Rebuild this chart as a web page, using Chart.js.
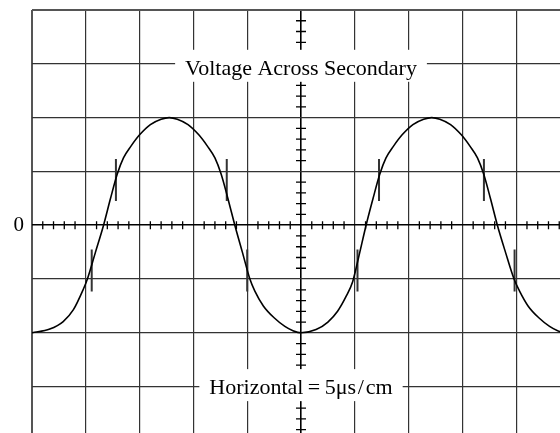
<!DOCTYPE html>
<html>
<head>
<meta charset="utf-8">
<script src="https://cdn.jsdelivr.net/npm/chart.js@4.4.1/dist/chart.umd.min.js"></script>
<style>
  html, body { margin: 0; padding: 0; background: #fff; }
  #wrap { width: 560px; height: 433px; }
</style>
</head>
<body>
<div id="wrap"><canvas id="scope" width="560" height="433"></canvas></div>
<script>
// trace in graticule divisions: x from the left edge, y from the centre line
const traceX = [
    0.00, 0.33, 0.58, 0.77, 0.95, 1.03, 1.18, 1.33, 1.46, 1.585, 1.70, 1.84, 2.00, 2.20, 2.40, 2.55,
    2.70, 2.90, 3.10, 3.26, 3.40, 3.515, 3.64, 3.77, 3.91, 4.05, 4.14, 4.30, 4.50, 4.70, 4.85, 5.00,
    5.28, 5.50, 5.68, 5.84, 5.96, 6.07, 6.21, 6.34, 6.465, 6.58, 6.72, 6.88, 7.08, 7.28, 7.43,
    7.58, 7.78, 7.98, 8.14, 8.28, 8.395, 8.52, 8.65, 8.80, 8.96, 9.06, 9.22, 9.42, 9.62, 9.77, 9.92, 10.05
];
const traceY = [
    -2.00, -1.93, -1.79, -1.57, -1.20, -1.00, -0.50, 0.00, 0.50, 0.95, 1.25, 1.47, 1.68, 1.87, 1.97, 2.00,
    1.97, 1.87, 1.68, 1.47, 1.25, 0.95, 0.50, 0.00, -0.50, -1.00, -1.22, -1.50, -1.72, -1.88, -1.96, -2.00,
    -1.94, -1.80, -1.60, -1.32, -1.05, -0.60, 0.00, 0.50, 0.95, 1.25, 1.47, 1.68, 1.87, 1.97, 2.00,
    1.97, 1.87, 1.68, 1.47, 1.25, 0.95, 0.50, 0.00, -0.50, -1.00, -1.22, -1.50, -1.72, -1.88, -1.96, -2.00, -1.97
];

// short vertical markers across the trace
const markX = [1.11, 1.56, 3.62, 4.00, 6.05, 6.45, 8.40, 8.97];
const markLow = [-1.23, 0.45, 0.45, -1.23, -1.23, 0.45, 0.45, -1.23];
const markHigh = [-0.45, 1.23, 1.23, -0.45, -0.45, 1.23, 1.23, -0.45];

const captions = ['Voltage Across Secondary', 'Horizontal\u2009=\u20095\u03bcs\u200a/\u200acm'];
const captionRow = [3, -3];
const zeroLabel = '0';

const SERIF = '"Liberation Serif", "Times New Roman", serif';

const trace = traceX.map((x, i) => ({ x: x, y: traceY[i] }));
const marks = [];
markX.forEach((x, i) => {
    marks.push({ x: x, y: markLow[i] }, { x: x, y: markHigh[i] }, { x: x, y: null });
});

// centre cross with minor ticks every 1/5 division
const graticule = {
    id: 'graticule',
    beforeDatasetsDraw(chart) {
        const { ctx, scales: { x, y } } = chart;
        const cx = x.getPixelForValue(5);
        const cy = y.getPixelForValue(0);
        ctx.save();
        ctx.strokeStyle = '#000';
        ctx.lineWidth = 1.3;
        ctx.beginPath();
        for (let k = 1; k * 0.2 < x.max; k++) {
            if (k % 5 === 0) continue;
            const px = x.getPixelForValue(k * 0.2);
            ctx.moveTo(px, cy - 4);
            ctx.lineTo(px, cy + 4);
        }
        for (let k = Math.ceil(y.min / 0.2); k * 0.2 < y.max; k++) {
            if (k % 5 === 0) continue;
            const py = y.getPixelForValue(k * 0.2);
            ctx.moveTo(cx - 5, py);
            ctx.lineTo(cx + 5, py);
        }
        ctx.stroke();
        ctx.restore();
    }
};

// captions sit on white boxes that break the grid
const captionBoxes = {
    id: 'captionBoxes',
    afterDraw(chart) {
        const { ctx, scales: { x, y } } = chart;
        ctx.save();
        ctx.font = '22px ' + SERIF;
        ctx.textAlign = 'center';
        ctx.textBaseline = 'alphabetic';
        captions.forEach((text, i) => {
            const cx = x.getPixelForValue(5);
            const base = y.getPixelForValue(captionRow[i]) + (i === 0 ? 11 : 7.5);
            const w = ctx.measureText(text).width + 20;
            ctx.fillStyle = '#fff';
            ctx.fillRect(cx - w / 2, base - 25, w, 32);
            ctx.fillStyle = '#000';
            ctx.fillText(text, cx, base);
        });
        ctx.restore();
    }
};

const gridColor = (edge, centre) => (c) => {
    const v = c.tick && c.tick.value;
    if (v === edge) return '#555';
    if (v === centre) return '#000';
    return '#333';
};
const gridWidth = (edge, centre) => (c) => {
    const v = c.tick && c.tick.value;
    if (v === edge) return 2;
    if (v === centre) return 1.6;
    return 1.2;
};

new Chart(document.getElementById('scope'), {
    type: 'line',
    data: {
        datasets: [{
            data: trace,
            borderColor: '#000',
            borderWidth: 1.6,
            pointRadius: 0,
            fill: false,
            cubicInterpolationMode: 'monotone'
        }, {
            data: marks,
            borderColor: '#333',
            borderWidth: 2,
            pointRadius: 0,
            fill: false,
            tension: 0,
            spanGaps: false
        }]
    },
    options: {
        responsive: false,
        animation: false,
        devicePixelRatio: 1,
        layout: { padding: { top: 10, left: 0, right: 0, bottom: 0 } },
        plugins: {
            legend: { display: false },
            tooltip: { enabled: false }
        },
        scales: {
            x: {
                type: 'linear',
                min: 0,
                max: 9.814,
                ticks: { stepSize: 1, includeBounds: false, display: false, autoSkip: false },
                grid: { color: gridColor(0, 5), lineWidth: gridWidth(0, 5), drawTicks: false },
                border: { display: false },
                afterFit: (s) => { s.height = 0; s.paddingLeft = 0; s.paddingRight = 0; }
            },
            y: {
                type: 'linear',
                min: -3.862,
                max: 4,
                ticks: {
                    stepSize: 1,
                    includeBounds: false,
                    autoSkip: false,
                    padding: 8,
                    color: '#000',
                    font: { family: SERIF, size: 21 },
                    callback: (v) => (v === 0 ? zeroLabel : '')
                },
                grid: { color: gridColor(4, 0), lineWidth: gridWidth(4, 0), drawTicks: false },
                border: { display: false },
                afterFit: (s) => { s.width = 32; s.paddingTop = 0; s.paddingBottom = 0; }
            }
        }
    },
    plugins: [graticule, captionBoxes]
});
</script>
</body>
</html>
